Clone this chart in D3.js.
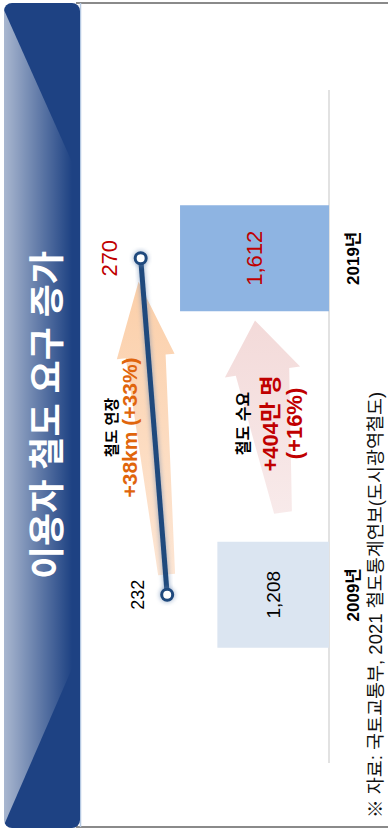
<!DOCTYPE html>
<html>
<head>
<meta charset="utf-8">
<script src="https://cdn.jsdelivr.net/npm/d3@7"></script>
<style>
  html, body { margin: 0; padding: 0; background: #fff; overflow: hidden; }
  svg { display: block; }
  text { font-family: "Liberation Sans", Arial, "Noto Sans CJK KR", sans-serif; }
</style>
</head>
<body>
<script>
// ---- data ----
const years = ["2009년", "2019년"];
const demand = [1208, 1612];          // 철도 수요 (만 명)
const demandLabels = ["1,208", "1,612"];
const railLength = [232, 270];        // 철도 연장 (km)
const railLabels = ["232", "270"];
const titleText = "이용자 철도 요구 증가";
const sourceText = "※ 자료: 국토교통부, 2021 철도통계연보(도시광역철도)";
const lengthNote = ["철도 연장", "+38km (+33%)"];
const demandNote = ["철도 수요", "+404만 명", "(+16%)"];

// ---- layout: drawn as a landscape slide, turned onto the portrait page ----
const W = 832, H = 388;
const svg = d3.select("body").append("svg")
  .attr("width", 388).attr("height", 832);
const defs = svg.append("defs");
const g = svg.append("g").attr("transform", `translate(0,${W}) rotate(-90)`);

const baseY = 329;
const x = d3.scalePoint().domain(years).range([69, 742]).padding(0.5);
const yBar = d3.scaleLinear().domain([0, 2700]).range([baseY, 79.5]);
const yLine = d3.scaleLinear().domain([0, 357]).range([baseY, 80]);
const barW = 106;
const midX = (x(years[0]) + x(years[1])) / 2;

// ---- gradients & filters ----
const shine = defs.append("linearGradient").attr("id", "shine")
  .attr("gradientUnits", "userSpaceOnUse")
  .attr("x1", 0).attr("y1", 4).attr("x2", 0).attr("y2", 72);
shine.append("stop").attr("offset", 0).attr("stop-color", "#fff").attr("stop-opacity", 0.62);
shine.append("stop").attr("offset", 1).attr("stop-color", "#fff").attr("stop-opacity", 0);

function arrowGradient(id, head, tail) {
  const gr = defs.append("linearGradient").attr("id", id)
    .attr("x1", 1).attr("y1", 0).attr("x2", 0).attr("y2", 0);
  gr.append("stop").attr("offset", 0).attr("stop-color", head);
  gr.append("stop").attr("offset", 1).attr("stop-color", tail);
}
arrowGradient("orangeArrow", "#fbcfa9", "#fde6d4");
arrowGradient("pinkArrow", "#f3dad9", "#f8eaea");

const glow = defs.append("filter").attr("id", "glow")
  .attr("x", "-20%").attr("y", "-20%").attr("width", "140%").attr("height", "140%");
glow.append("feGaussianBlur").attr("stdDeviation", 2.2);

// ---- frame ----
g.append("line").attr("x1", 5).attr("x2", 5).attr("y1", 76).attr("y2", H)
  .attr("stroke", "#8a8a8a").attr("stroke-width", 2);
g.append("line").attr("x1", 829).attr("x2", 829).attr("y1", 76).attr("y2", H)
  .attr("stroke", "#8a8a8a").attr("stroke-width", 2);
g.append("line").attr("x1", 5).attr("x2", 829).attr("y1", 80.5).attr("y2", 80.5)
  .attr("stroke", "#b4c8e2").attr("stroke-width", 1.5);

// ---- title bar ----
g.append("rect").attr("x", 4).attr("y", 4).attr("width", 825).attr("height", 76)
  .attr("rx", 8).attr("fill", "#1e4283");
g.append("path")
  .attr("d", "M7,4 L182,80 L652,80 L822,4 Z")
  .attr("fill", "url(#shine)");
g.append("text").attr("x", 417).attr("y", 47)
  .attr("text-anchor", "middle").attr("dominant-baseline", "central")
  .attr("fill", "#fff").attr("font-weight", "bold").attr("font-size", 36)
  .text(titleText);

// ---- axis baseline ----
g.append("line")
  .attr("x1", x.range()[0]).attr("x2", x.range()[1])
  .attr("y1", baseY).attr("y2", baseY)
  .attr("stroke", "#d9d9d9").attr("stroke-width", 1.5);

// ---- demand bars ----
const barColors = ["#dbe5f1", "#8eb4e2"];
g.selectAll("rect.bar").data(demand).join("rect").attr("class", "bar")
  .attr("x", (d, i) => x(years[i]) - barW / 2)
  .attr("width", barW)
  .attr("y", d => yBar(d))
  .attr("height", d => baseY - yBar(d))
  .attr("fill", (d, i) => barColors[i]);

const barLabelColor = ["#000", "#c00000"];
const barLabelSize = [19, 22];
g.selectAll("text.barLabel").data(demand).join("text").attr("class", "barLabel")
  .attr("x", (d, i) => x(years[i]))
  .attr("y", d => (yBar(d) + baseY) / 2)
  .attr("text-anchor", "middle").attr("dominant-baseline", "central")
  .attr("font-size", (d, i) => barLabelSize[i])
  .attr("fill", (d, i) => barLabelColor[i])
  .text((d, i) => demandLabels[i]);

// ---- category labels ----
g.selectAll("text.cat").data(years).join("text").attr("class", "cat")
  .attr("x", d => x(d)).attr("y", 353)
  .attr("text-anchor", "middle").attr("dominant-baseline", "central")
  .attr("font-size", 17).attr("font-weight", "bold").attr("fill", "#000")
  .text(d => d);

// ---- arrows ----
function arrowPath(p0, p1, tailHalf, shaftHalf, headHalf, headLen) {
  const dx = p1[0] - p0[0], dy = p1[1] - p0[1];
  const len = Math.hypot(dx, dy);
  const u = [dx / len, dy / len], n = [-u[1], u[0]];
  const b = [p1[0] - u[0] * headLen, p1[1] - u[1] * headLen];
  const pt = (p, k) => [p[0] + n[0] * k, p[1] + n[1] * k];
  const pts = [pt(p0, -tailHalf), pt(b, -shaftHalf), pt(b, -headHalf), p1,
               pt(b, headHalf), pt(b, shaftHalf), pt(p0, tailHalf)];
  return "M" + pts.map(p => p.join(",")).join("L") + "Z";
}

// growth arrow for the rail length (follows the line)
const L0 = [x(years[0]), yLine(railLength[0])];
const L1 = [x(years[1]), yLine(railLength[1])];
const along = t => [L0[0] + (L1[0] - L0[0]) * t, L0[1] + (L1[1] - L0[1]) * t];
const oa = along(0.06), ob = along(0.93);
g.append("path")
  .attr("d", arrowPath([oa[0], oa[1] + 1], [ob[0], ob[1] - 4], 8.5, 20, 29, 75))
  .attr("fill", "url(#orangeArrow)");

// growth arrow for demand
g.append("path")
  .attr("d", arrowPath([midX - 86, 283], [midX + 106, 255], 9, 27, 38, 52))
  .attr("fill", "url(#pinkArrow)");

// ---- rail length line ----
const lineGen = d3.line().x((d, i) => x(years[i])).y(d => yLine(d));
g.append("path").datum(railLength).attr("d", lineGen)
  .attr("fill", "none").attr("stroke", "#6f8db5").attr("stroke-width", 7)
  .attr("opacity", 0.55).attr("filter", "url(#glow)");
g.append("path").datum(railLength).attr("d", lineGen)
  .attr("fill", "none").attr("stroke", "#1f497d").attr("stroke-width", 5);
g.selectAll("circle.glow").data(railLength).join("circle").attr("class", "glow")
  .attr("cx", (d, i) => x(years[i])).attr("cy", d => yLine(d)).attr("r", 8)
  .attr("fill", "#6f8db5").attr("opacity", 0.5).attr("filter", "url(#glow)");
g.selectAll("circle.pt").data(railLength).join("circle").attr("class", "pt")
  .attr("cx", (d, i) => x(years[i])).attr("cy", d => yLine(d)).attr("r", 5.5)
  .attr("fill", "#fff").attr("stroke", "#1f497d").attr("stroke-width", 3);

const railLabelSize = [18, 22];
const railLabelColor = ["#000", "#c00000"];
g.selectAll("text.railLabel").data(railLength).join("text").attr("class", "railLabel")
  .attr("x", (d, i) => x(years[i]))
  .attr("y", (d, i) => yLine(d) - 20 - railLabelSize[i] / 2)
  .attr("text-anchor", "middle").attr("dominant-baseline", "central")
  .attr("font-size", (d, i) => railLabelSize[i])
  .attr("fill", (d, i) => railLabelColor[i])
  .text((d, i) => railLabels[i]);

// ---- annotations ----
g.append("text").attr("x", midX - 1).attr("y", 111)
  .attr("text-anchor", "middle").attr("dominant-baseline", "central")
  .attr("font-size", 15).attr("font-weight", "bold").attr("fill", "#000")
  .text(lengthNote[0]);
g.append("text").attr("x", midX - 1).attr("y", 129)
  .attr("text-anchor", "middle").attr("dominant-baseline", "central")
  .attr("font-size", 21).attr("font-weight", "bold").attr("fill", "#e0650c")
  .text(lengthNote[1]);

const dnY = [243, 270, 294], dnSize = [16, 22, 22], dnColor = ["#000", "#c00000", "#c00000"];
demandNote.forEach((t, i) => {
  g.append("text").attr("x", midX + 3).attr("y", dnY[i])
    .attr("text-anchor", "middle").attr("dominant-baseline", "central")
    .attr("font-size", dnSize[i]).attr("font-weight", "bold").attr("fill", dnColor[i])
    .text(t);
});

// ---- source note ----
g.append("text").attr("x", 14).attr("y", 375)
  .attr("dominant-baseline", "central")
  .attr("font-size", 18.5).attr("fill", "#111")
  .text(sourceText);
</script>
</body>
</html>
